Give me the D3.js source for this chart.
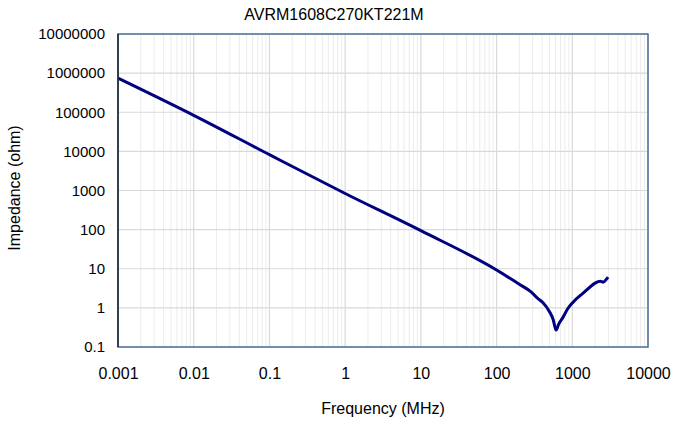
<!DOCTYPE html>
<html>
<head>
<meta charset="utf-8">
<script src="https://cdn.jsdelivr.net/npm/d3@7"></script>
<style>
  body { margin: 0; background: #fff; }
  text { font-family: "Liberation Sans", Arial, sans-serif; fill: #000; }
</style>
</head>
<body>
<script>
// dati
const titolo = "AVRM1608C270KT221M";
const frequenze = [0.001, 0.01, 0.1, 1, 10, 100, 200, 277, 350, 411, 500, 560, 611, 660, 756, 870, 1025, 1390, 2004, 2200, 2335, 2557, 2800, 2972];
const impedenze = [745000, 83500, 8240, 840, 94, 9.3, 4.0, 2.67, 1.75, 1.35, 0.8, 0.5, 0.27, 0.38, 0.58, 0.95, 1.4, 2.38, 4.29, 4.7, 4.82, 4.54, 5.3, 6.1];
const tickX = [0.001, 0.01, 0.1, 1, 10, 100, 1000, 10000];
const tickY = [0.1, 1, 10, 100, 1000, 10000, 100000, 1000000, 10000000];

const margine = { sinistra: 118, destra: 648, alto: 34, basso: 347 };

const svg = d3.select("body")
  .append("svg")
  .attr("width", 673)
  .attr("height", 422);

// scale logaritmiche
const scalaX = d3.scaleLog()
  .domain([0.001, 10000])
  .range([margine.sinistra, margine.destra]);

const scalaY = d3.scaleLog()
  .domain([0.1, 10000000])
  .range([margine.basso, margine.alto]);

// griglia verticale minore (2..9 per decade)
const minori = [];
tickX.slice(0, -1).forEach(function (d) {
  for (let k = 2; k <= 9; k++) minori.push(d * k);
});

svg.append("g")
  .selectAll("line")
  .data(minori)
  .enter()
  .append("line")
  .attr("x1", d => scalaX(d))
  .attr("x2", d => scalaX(d))
  .attr("y1", margine.alto)
  .attr("y2", margine.basso)
  .attr("stroke", "#ececec")
  .attr("stroke-width", 1);

// griglia principale
svg.append("g")
  .selectAll("line")
  .data(tickX)
  .enter()
  .append("line")
  .attr("x1", d => scalaX(d))
  .attr("x2", d => scalaX(d))
  .attr("y1", margine.alto)
  .attr("y2", margine.basso)
  .attr("stroke", "#d9d9d9")
  .attr("stroke-width", 1.2);

svg.append("g")
  .selectAll("line")
  .data(tickY)
  .enter()
  .append("line")
  .attr("x1", margine.sinistra)
  .attr("x2", margine.destra)
  .attr("y1", d => scalaY(d))
  .attr("y2", d => scalaY(d))
  .attr("stroke", "#d9d9d9")
  .attr("stroke-width", 1.2);

// linea impedenza
const punti = frequenze.map((f, i) => ({ f: f, z: impedenze[i] }));
const linea = d3.line()
  .x(d => scalaX(d.f))
  .y(d => scalaY(d.z))
  .curve(d3.curveMonotoneX);

svg.append("path")
  .datum(punti)
  .attr("d", linea)
  .attr("fill", "none")
  .attr("stroke", "#000080")
  .attr("stroke-width", 3)
  .attr("stroke-linejoin", "round");

// cornice
svg.append("rect")
  .attr("x", margine.sinistra)
  .attr("y", margine.alto)
  .attr("width", margine.destra - margine.sinistra)
  .attr("height", margine.basso - margine.alto)
  .attr("fill", "none")
  .attr("stroke", "#4a6f99")
  .attr("stroke-width", 1.5);

svg.append("line")
  .attr("x1", margine.sinistra).attr("x2", margine.sinistra)
  .attr("y1", margine.alto).attr("y2", margine.basso)
  .attr("stroke", "#1d2633")
  .attr("stroke-width", 1.5);

// etichette assi
const formato = d => String(+d.toPrecision(6));

let asseX = d3.axisBottom(scalaX)
  .tickValues(tickX)
  .tickFormat(formato)
  .tickSize(0)
  .tickPadding(21);

svg.append("g")
  .attr("transform", `translate(0,${margine.basso})`)
  .call(asseX)
  .call(g => g.select(".domain").remove())
  .selectAll("text")
  .attr("font-size", 16)
  .attr("font-family", "Liberation Sans, Arial, sans-serif");

let asseY = d3.axisLeft(scalaY)
  .tickValues(tickY)
  .tickFormat(formato)
  .tickSize(0)
  .tickPadding(13);

svg.append("g")
  .attr("transform", `translate(${margine.sinistra},0)`)
  .call(asseY)
  .call(g => g.select(".domain").remove())
  .selectAll("text")
  .attr("font-size", 15)
  .attr("font-family", "Liberation Sans, Arial, sans-serif");

// titoli
svg.append("text")
  .attr("x", 334)
  .attr("y", 20)
  .attr("text-anchor", "middle")
  .attr("font-size", 16)
  .text(titolo);

svg.append("text")
  .attr("x", 383)
  .attr("y", 414)
  .attr("text-anchor", "middle")
  .attr("font-size", 16)
  .text("Frequency (MHz)");

svg.append("text")
  .attr("transform", "translate(20,188) rotate(-90)")
  .attr("text-anchor", "middle")
  .attr("font-size", 16)
  .text("Impedance (ohm)");
</script>
</body>
</html>
